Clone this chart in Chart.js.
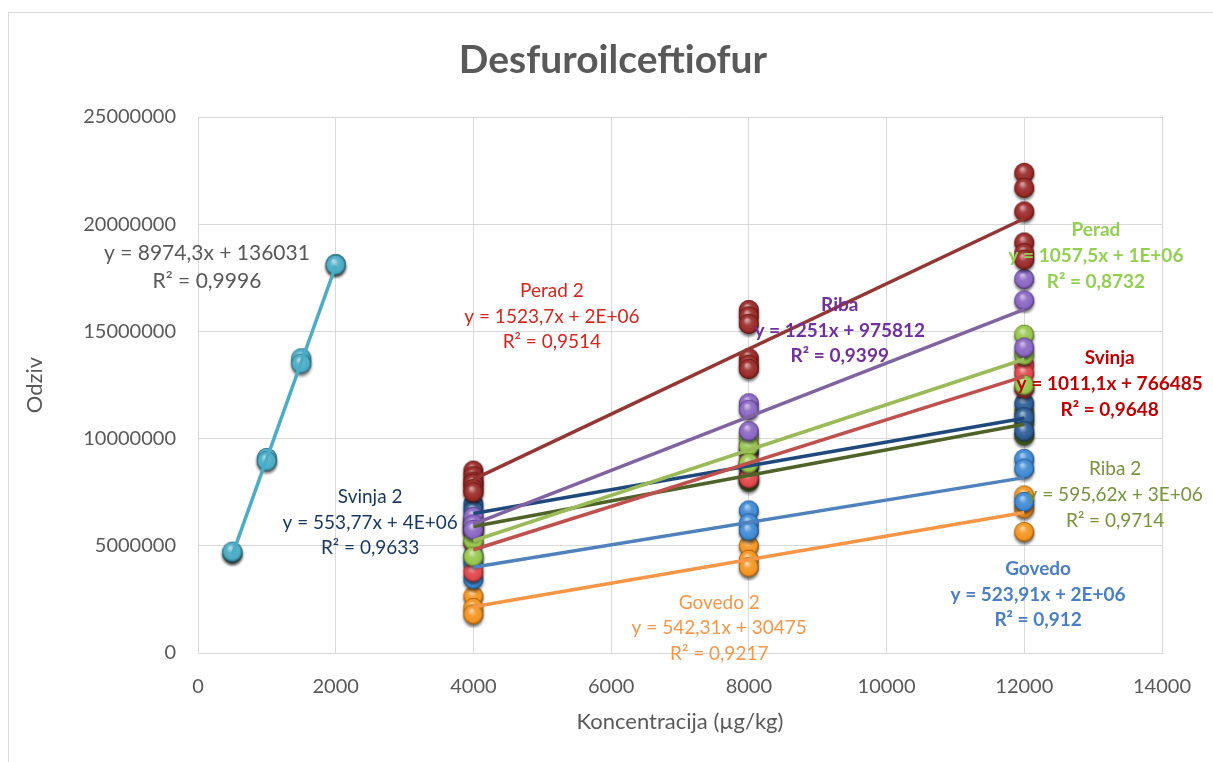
<!DOCTYPE html>
<html>
<head>
<meta charset="utf-8">
<title>Desfuroilceftiofur</title>
<script src="https://cdn.jsdelivr.net/npm/chart.js@4.4.1/dist/chart.umd.min.js"></script>
<style>
  html, body { margin: 0; padding: 0; background: #fff; }
  canvas { display: block; }
</style>
</head>
<body>
<canvas id="calChart" width="1213" height="762"></canvas>
<script>
// calibration standards
var calX = [500, 500, 1000, 1000, 1500, 1500, 2000, 2000];
var calY = [4620000, 4680000, 9050000, 8900000, 13700000, 13450000, 18100000, 18050000];

// spiked samples, one row per concentration level
var levels = [4000, 8000, 12000];
var perad2 = [[8460000, 8200000, 7950000, 7850000, 7600000, 7450000],
              [15950000, 15650000, 15300000, 13700000, 13400000, 13200000],
              [22350000, 21650000, 20550000, 19100000, 18600000, 18300000]];
var riba = [[6300000, 5950000, 5700000], [11600000, 11300000, 10300000], [17400000, 16400000, 14200000]];
var perad = [[6060000, 5200000, 4450000], [10000000, 9600000, 8800000], [14800000, 13850000, 12450000]];
var svinja = [[5600000, 5100000, 3730000], [9600000, 8900000, 8100000], [13400000, 13000000, 12300000]];
var svinja2 = [[6900000, 6600000, 6000000], [9300000, 8700000, 8200000], [11600000, 10950000, 10300000]];
var riba2 = [[6200000, 5800000, 5700000], [8700000, 8200000, 7950000], [11200000, 10700000, 10100000]];
var govedo = [[4500000, 4100000, 3400000], [6600000, 6000000, 5650000], [9000000, 8550000, 7000000]];
var govedo2 = [[2600000, 2050000, 1750000], [4950000, 4300000, 3950000], [7300000, 6700000, 5600000]];

var seriesNames = ['Perad 2', 'Riba', 'Perad', 'Svinja', 'Svinja 2', 'Riba 2', 'Govedo', 'Govedo 2'];
var seriesData = [perad2, riba, perad, svinja, svinja2, riba2, govedo, govedo2];
var lineColors = ['#943634', '#8064A2', '#9BBB59', '#C0504D', '#1F497D', '#4F6228', '#4F81BD', '#F79646'];
var ballColors = ['#9A2A28', '#8A66C4', '#96C64A', '#E0474A', '#2C5D96', '#5E7F2C', '#3F8AD6', '#F5941E'];
var calColor = '#4BACC6';

var chartTitle = 'Desfuroilceftiofur';

// equation boxes (text as printed on the chart, anchor in data units)
var labelLines = [
  ['y = 8974,3x + 136031', 'R² = 0,9996'],
  ['Perad 2', 'y = 1523,7x + 2E+06', 'R² = 0,9514'],
  ['Riba', 'y = 1251x + 975812', 'R² = 0,9399'],
  ['Perad', 'y = 1057,5x + 1E+06', 'R² = 0,8732'],
  ['Svinja', 'y = 1011,1x + 766485', 'R² = 0,9648'],
  ['Svinja 2', 'y = 553,77x + 4E+06', 'R² = 0,9633'],
  ['Riba 2', 'y = 595,62x + 3E+06', 'R² = 0,9714'],
  ['Govedo', 'y = 523,91x + 2E+06', 'R² = 0,912'],
  ['Govedo 2', 'y = 542,31x + 30475', 'R² = 0,9217']
];
var labelX = [130, 5140, 9320, 13040, 13240, 2500, 13320, 12200, 7570];
var labelY = [18660000, 16890000, 16240000, 19730000, 13760000, 7280000, 8580000, 3930000, 2350000];
var labelColors = ['#595959', '#D7261E', '#7030A0', '#92D050', '#C00000', '#17375E', '#77933C', '#4A7EC8', '#F79646'];
var labelBold = [false, false, true, true, true, false, false, true, false];

function shade(hex, f) {
  var n = parseInt(hex.slice(1), 16);
  var r = n >> 16, g = (n >> 8) & 255, b = n & 255;
  function m(c) { return Math.round(f >= 0 ? c + (255 - c) * f : c * (1 + f)); }
  return 'rgb(' + m(r) + ',' + m(g) + ',' + m(b) + ')';
}

function sphere(color) {
  var r = 10, s = 26;
  var c = document.createElement('canvas');
  c.width = s; c.height = s;
  var g = c.getContext('2d');
  var cx = s / 2, cy = s / 2 - 1;
  g.save();
  g.shadowColor = 'rgba(0,0,0,0.55)';
  g.shadowBlur = 3;
  g.shadowOffsetY = 2.5;
  g.beginPath(); g.arc(cx, cy, r, 0, Math.PI * 2);
  g.fillStyle = shade(color, -0.4); g.fill();
  g.restore();
  var grad = g.createRadialGradient(cx - 2, cy - 4, 1, cx, cy, r);
  grad.addColorStop(0, shade(color, 0.55));
  grad.addColorStop(0.35, shade(color, 0.1));
  grad.addColorStop(0.8, color);
  grad.addColorStop(1, shade(color, -0.45));
  g.beginPath(); g.arc(cx, cy, r, 0, Math.PI * 2);
  g.fillStyle = grad; g.fill();
  return c;
}

function fit(pts) {
  var n = pts.length, sx = 0, sy = 0, sxx = 0, sxy = 0;
  pts.forEach(function (p) { sx += p.x; sy += p.y; sxx += p.x * p.x; sxy += p.x * p.y; });
  var b = (n * sxy - sx * sy) / (n * sxx - sx * sx);
  var a = (sy - b * sx) / n;
  var xs = pts.map(function (p) { return p.x; });
  var x0 = Math.min.apply(null, xs), x1 = Math.max.apply(null, xs);
  return [{ x: x0, y: a + b * x0 }, { x: x1, y: a + b * x1 }];
}

var datasets = [];
seriesData.forEach(function (rows, i) {
  var pts = [];
  rows.forEach(function (row, k) {
    row.forEach(function (v) { pts.push({ x: levels[k], y: v }); });
  });
  datasets.push({ label: seriesNames[i], data: pts, pointStyle: sphere(ballColors[i]), order: 1 });
  datasets.push({ label: seriesNames[i] + ' trend', data: fit(pts), showLine: true, pointRadius: 0,
                  borderColor: lineColors[i], borderWidth: 3.5, order: 0 });
});
var calPts = calX.map(function (x, i) { return { x: x, y: calY[i] }; });
datasets.push({ label: 'Kalibracija', data: calPts, pointStyle: sphere(calColor), order: 1 });
datasets.push({ label: 'Kalibracija trend', data: fit(calPts), showLine: true, pointRadius: 0,
                borderColor: calColor, borderWidth: 3.5, order: 0 });

// white background, outer chart frame and the title (centred on the frame, like Excel)
var frame = {
  id: 'frame',
  beforeDraw: function (chart) {
    var ctx = chart.ctx;
    ctx.save();
    ctx.fillStyle = '#fff';
    ctx.fillRect(0, 0, chart.width, chart.height);
    ctx.strokeStyle = '#d9d9d9';
    ctx.lineWidth = 1;
    ctx.strokeRect(8.5, 12.5, 1400, 900);
    ctx.font = 'bold 39px Lato';
    ctx.fillStyle = '#595959';
    ctx.textAlign = 'center';
    ctx.textBaseline = 'middle';
    ctx.fillText(chartTitle, 613, 60);
    ctx.restore();
  }
};

var equations = {
  id: 'equations',
  afterDatasetsDraw: function (chart) {
    var ctx = chart.ctx, sx = chart.scales.x, sy = chart.scales.y;
    ctx.save();
    ctx.textAlign = 'center';
    ctx.textBaseline = 'middle';
    labelLines.forEach(function (lines, i) {
      var big = i === 0;
      ctx.font = (labelBold[i] ? 'bold ' : '') + (big ? '21px' : '19px') + ' Lato';
      ctx.fillStyle = labelColors[i];
      var px = sx.getPixelForValue(labelX[i]), py = sy.getPixelForValue(labelY[i]);
      lines.forEach(function (t, j) {
        ctx.fillText(t, px, py + j * (big ? 28 : 25.7));
      });
    });
    ctx.restore();
  }
};

new Chart(document.getElementById('calChart'), {
  type: 'scatter',
  data: { datasets: datasets },
  options: {
    responsive: false,
    animation: false,
    layout: { padding: { left: 10, right: 48, top: 117, bottom: 19 } },
    plugins: {
      legend: { display: false },
      tooltip: { enabled: false },
      title: { display: false }
    },
    scales: {
      x: {
        type: 'linear', min: 0, max: 14000,
        afterFit: function (s) { s.height = 90; },
        ticks: { stepSize: 2000, color: '#595959', padding: 22, font: { family: 'Lato', size: 20 },
                 callback: function (v) { return String(v); } },
        grid: { color: '#d9d9d9', drawTicks: false },
        border: { color: '#d9d9d9' },
        title: { display: true, text: 'Koncentracija (µg/kg)', color: '#595959',
                 font: { family: 'Lato', size: 22 }, padding: { bottom: 8 } }
      },
      y: {
        type: 'linear', min: 0, max: 25000000,
        afterFit: function (s) { s.width = 188; },
        ticks: { stepSize: 5000000, color: '#595959', padding: 22, font: { family: 'Lato', size: 20 },
                 callback: function (v) { return String(v); } },
        grid: { color: '#d9d9d9', drawTicks: false },
        border: { color: '#d9d9d9' },
        title: { display: true, text: 'Odziv', color: '#595959',
                 font: { family: 'Lato', size: 22 }, padding: { top: 12 } }
      }
    }
  },
  plugins: [frame, equations]
});
</script>
</body>
</html>
